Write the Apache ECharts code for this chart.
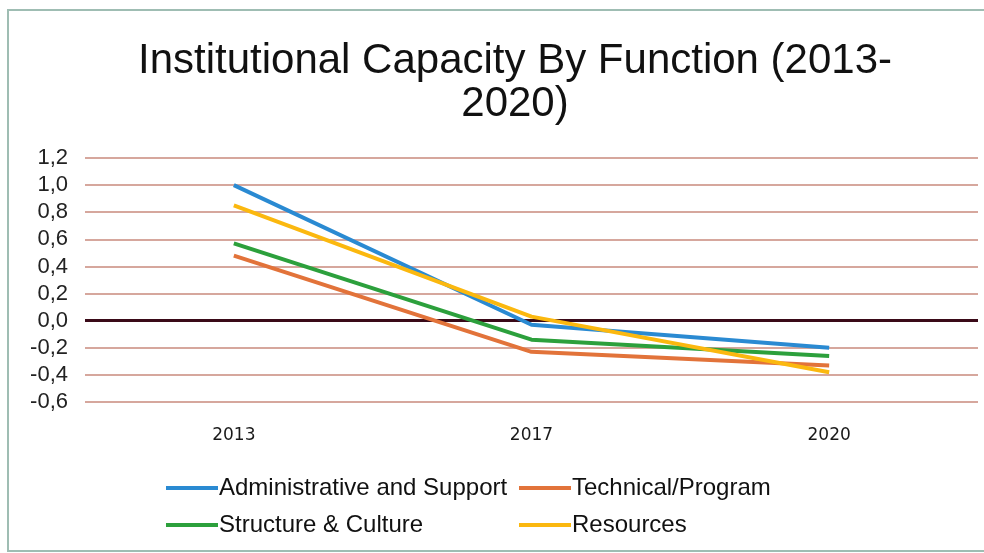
<!DOCTYPE html>
<html>
<head>
<meta charset="utf-8">
<script src="https://cdn.jsdelivr.net/npm/echarts@6/dist/echarts.min.js"></script>
<style>html,body{margin:0;padding:0;background:#fff;}#c{width:984px;height:553px;}</style>
</head>
<body>
<div id="c"></div>
<script>
const categories = ['2013', '2017', '2020'];
const seriesNames = ['Administrative and Support', 'Technical/Program', 'Structure & Culture', 'Resources'];
const adminSupport = [1.0, -0.03, -0.2];
const technicalProgram = [0.48, -0.23, -0.33];
const structureCulture = [0.57, -0.14, -0.26];
const resources = [0.85, 0.03, -0.38];
const yTicks = { min: -0.6, max: 1.2, interval: 0.2 };

const colors = ['#2a8ad2', '#e2733a', '#2ca03c', '#fbb80f'];
const values = [adminSupport, technicalProgram, structureCulture, resources];

const chart = echarts.init(document.getElementById('c'));
const font = 'Liberation Sans, Arial, sans-serif';

const series = seriesNames.map((n, i) => ({
  name: n,
  type: 'line',
  data: values[i],
  symbol: 'none',
  z: 5,
  lineStyle: { width: 4, color: colors[i] },
  itemStyle: { color: colors[i] }
}));
series[0].markLine = {
  silent: true,
  symbol: 'none',
  label: { show: false },
  lineStyle: { color: '#3a0a18', width: 3, type: 'solid' },
  data: [{ yAxis: 0 }],
  z: 1
};

const legendCommon = {
  orient: 'vertical',
  padding: 0,
  itemWidth: 52,
  itemHeight: 4,
  itemGap: 13,
  icon: 'rect',
  textStyle: { fontSize: 24, color: '#111', fontFamily: font, padding: [0, 0, 0, -4] },
  selectedMode: false
};

chart.setOption({
  backgroundColor: '#fff',
  animation: false,
  graphic: [{
    type: 'rect',
    shape: { x: 8, y: 10, width: 1000, height: 541 },
    style: { fill: 'none', stroke: '#9fbdb3', lineWidth: 2 },
    silent: true
  }],
  title: {
    text: 'Institutional Capacity By Function (2013-\n2020)',
    left: 510,
    top: 35,
    textAlign: 'center',
    textStyle: { fontSize: 42, fontWeight: 'normal', color: '#111', fontFamily: font, lineHeight: 43 }
  },
  legend: [
    Object.assign({}, legendCommon, { left: 166, top: 476, data: [seriesNames[0], seriesNames[2]] }),
    Object.assign({}, legendCommon, { left: 519, top: 476, data: [seriesNames[1], seriesNames[3]] })
  ],
  grid: { left: 85, right: 6, top: 158, bottom: 553 - 402 },
  xAxis: {
    type: 'category',
    data: categories,
    boundaryGap: true,
    axisLine: { show: false, onZero: false },
    axisTick: { show: false },
    axisLabel: { fontSize: 17, color: '#1a1a1a', margin: 25, fontFamily: 'DejaVu Sans, sans-serif' }
  },
  yAxis: {
    type: 'value',
    min: yTicks.min,
    max: yTicks.max,
    interval: yTicks.interval,
    axisLine: { show: false },
    axisTick: { show: false },
    axisLabel: {
      fontSize: 22, color: '#222', margin: 17, fontFamily: font,
      formatter: v => v.toFixed(1).replace('.', ',')
    },
    splitLine: { lineStyle: { color: '#c98a7c', width: 1.5 } }
  },
  series: series
});
</script>
</body>
</html>
